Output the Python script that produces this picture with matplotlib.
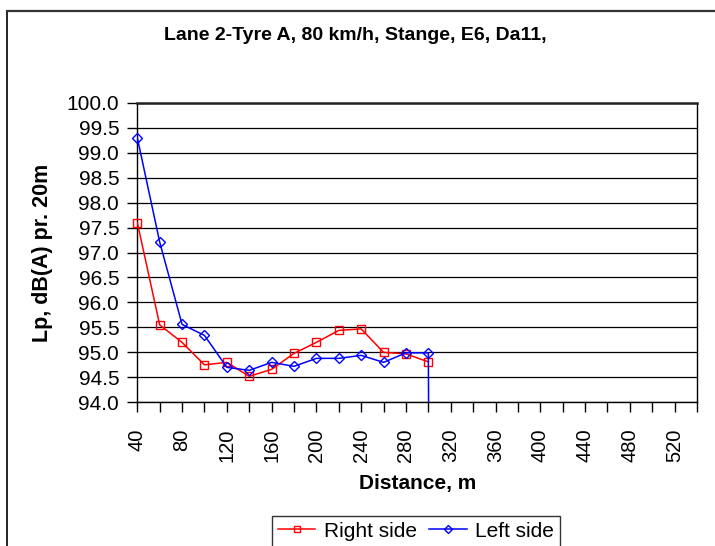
import matplotlib
matplotlib.use("Agg")
import matplotlib.pyplot as plt
from matplotlib.lines import Line2D
import numpy as np

plt.rcParams['font.family'] = ['Liberation Sans', 'DejaVu Sans']

categories = [40, 60, 80, 100, 120, 140, 160, 180, 200, 220, 240, 260, 280, 300,
              320, 340, 360, 380, 400, 420, 440, 460, 480, 500, 520, 540]
right_x = [40, 60, 80, 100, 120, 140, 160, 180, 200, 220, 240, 260, 280, 300]
right_side = [97.60, 95.55, 95.20, 94.75, 94.80, 94.52, 94.66, 94.98, 95.20, 95.44,
              95.47, 95.00, 94.97, 94.81]
left_x = [40, 60, 80, 100, 120, 140, 160, 180, 200, 220, 240, 260, 280, 300, 320]
left_side = [99.30, 97.21, 95.56, 95.34, 94.70, 94.64, 94.80, 94.72, 94.88, 94.88,
             94.94, 94.80, 94.99, 94.99, 0.0]
x_tick_labels = [str(c) if i % 2 == 0 else "" for i, c in enumerate(categories)]
y_ticks = [94.0, 94.5, 95.0, 95.5, 96.0, 96.5, 97.0, 97.5, 98.0, 98.5, 99.0, 99.5, 100.0]

W, H = 715, 546
fig = plt.figure(figsize=(W / 100, H / 100), dpi=100)

L, R, T, B = 137.3, 697, 102.7, 402.3
ax = fig.add_axes([L / W, 1 - B / H, (R - L) / W, (B - T) / H])

ymin, ymax = 94.0, 100.0
ax.set_xlim(categories[0], categories[-1])
ax.set_ylim(ymin, ymax)
ax.set_yticks(y_ticks)
ax.set_yticklabels([f"{v:.1f}" for v in y_ticks], fontsize=15)
ax.set_xticks(categories)
ax.set_xticklabels(x_tick_labels, rotation=90, fontsize=14.5)
ax.tick_params(axis='both', direction='out', length=7, width=1, color='black')
ax.tick_params(axis='x', pad=12)
ax.tick_params(axis='y', pad=6)

for v in y_ticks:
    ax.axhline(v, color='black', lw=0.9, zorder=1)

for s in ['left', 'bottom', 'right']:
    ax.spines[s].set_color('black')
    ax.spines[s].set_linewidth(1.0)
ax.spines['top'].set_color('#222222')
ax.spines['top'].set_linewidth(1.8)

series = [
    (right_x, right_side, '#FF0000', 's', 6, 'Right side', 3),
    (left_x, left_side, '#0000FF', 'D', 5, 'Left side', 4),
]
for xs, ys, col, mk, ms, lab, z in series:
    xs = np.asarray(xs, float)
    ys = np.asarray(ys, float)
    ax.plot(xs, ys, color=col, lw=1.1, zorder=z)
    inside = (ys >= ymin) & (ys <= ymax)
    ax.plot(xs[inside], ys[inside], linestyle='none', marker=mk, markersize=ms,
            markerfacecolor='none', markeredgecolor=col, markeredgewidth=1.0,
            clip_on=False, zorder=z + 0.5)
    ax.plot([], [], color=col, lw=1.1, marker=mk, markersize=ms - 1,
            markerfacecolor='none', markeredgecolor=col, markeredgewidth=1.0,
            label=lab)

ax.set_ylabel("Lp, dB(A) pr. 20m", fontsize=15.5, fontweight='bold')
ax.yaxis.set_label_coords((53 - L) / (R - L), 0.5)
ax.set_xlabel("Distance, m", fontsize=15, fontweight='bold')
ax.xaxis.set_label_coords((418 - L) / (R - L), -(474 - B) / (B - T))

fig.text(355 / W, 1 - 36 / H, "Lane 2-Tyre A, 80 km/h, Stange, E6, Da11,",
         ha='center', va='center', fontsize=14, fontweight='bold')

leg = fig.legend(loc='upper center', bbox_to_anchor=(416 / W, 1 - 515.5 / H),
                 ncol=2, fontsize=15, frameon=True, fancybox=False,
                 edgecolor='black', handlelength=1.8, columnspacing=0.6,
                 handletextpad=0.4, borderpad=0.3, borderaxespad=0)
leg.get_frame().set_linewidth(1.0)

# outer chart frame (partly cut off)
fig.add_artist(Line2D([7 / W, 7 / W], [0, 1 - 11 / H], color='black', lw=1.2,
                      transform=fig.transFigure))
fig.add_artist(Line2D([7 / W, 1], [1 - 11 / H, 1 - 11 / H], color='#333333', lw=1.6,
                      transform=fig.transFigure))

fig.savefig("out.png", dpi=100)
